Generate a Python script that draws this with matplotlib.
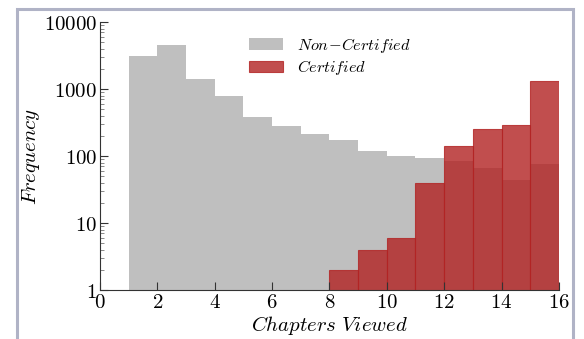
import numpy as np
import matplotlib
matplotlib.use("Agg")
import matplotlib.pyplot as plt
from matplotlib.patches import Rectangle
from matplotlib.ticker import FixedLocator, FixedFormatter, LogLocator, NullFormatter

plt.rcParams["mathtext.fontset"] = "cm"
plt.rcParams["font.family"] = "serif"

# chapters viewed: histogram bins of width 1, left edges 1..15
chapters = np.arange(1, 16)
non_certified = [3100, 4540, 1425, 786, 386, 283, 211, 173, 119, 101, 92, 84, 66, 44, 77]
certified_chapters = np.arange(8, 16)
certified = [2, 4, 6, 39, 141, 250, 290, 1315]

x_ticks = [0, 2, 4, 6, 8, 10, 12, 14, 16]
y_ticks = [1, 10, 100, 1000, 10000]

fig = plt.figure(figsize=(5.84, 3.39), dpi=100)
ax = fig.add_axes([0.171, 0.1445, 0.786, 0.7905])

ax.bar(chapters, non_certified, width=1.0, align="edge", color="#bfbfbf",
       linewidth=0, label=r"$Non\!-\!Certified$")
ax.bar(certified_chapters, certified, width=1.0, align="edge", color="#b22222",
       alpha=0.8, edgecolor="#b22222", linewidth=0.8, label=r"$Certified$")

ax.set_yscale("log")
ax.set_xlim(0, 16)
ax.set_ylim(1, 10000)

ax.xaxis.set_major_locator(FixedLocator(x_ticks))
ax.xaxis.set_major_formatter(FixedFormatter([f"${t}$" for t in x_ticks]))
ax.yaxis.set_major_locator(FixedLocator(y_ticks))
ax.yaxis.set_major_formatter(FixedFormatter([f"${t}$" for t in y_ticks]))
ax.yaxis.set_minor_locator(LogLocator(base=10, subs=np.arange(2, 10)))
ax.yaxis.set_minor_formatter(NullFormatter())

for side in ["top", "right"]:
    ax.spines[side].set_visible(False)
for side in ["left", "bottom"]:
    ax.spines[side].set_color("#333333")
ax.tick_params(axis="both", which="major", direction="in", length=6,
               labelsize=15, color="#333333", pad=2)
ax.tick_params(axis="y", which="minor", direction="in", length=3, color="#777777")
ax.tick_params(top=False, right=False)

ax.set_xlabel(r"$Chapters\ Viewed$", fontsize=15)
ax.xaxis.set_label_coords(0.5, -0.09)
ax.set_ylabel(r"$Frequency$", fontsize=15)
ax.yaxis.set_label_coords(-0.125, 0.5)

ax.legend(loc="upper left", bbox_to_anchor=(0.3246, 0.948), frameon=False,
          fontsize=11.7, handlelength=2.1, handleheight=0.74, labelspacing=0.2,
          handletextpad=0.85, borderpad=0, borderaxespad=0)

# light frame around the figure
fig.patches.append(Rectangle((17 / 584, -0.05), 556 / 584, 1 - 8.5 / 339 + 0.05,
                             transform=fig.transFigure, fill=False,
                             edgecolor="#b0b3c6", linewidth=2.2))

fig.savefig("out.png", dpi=100)
